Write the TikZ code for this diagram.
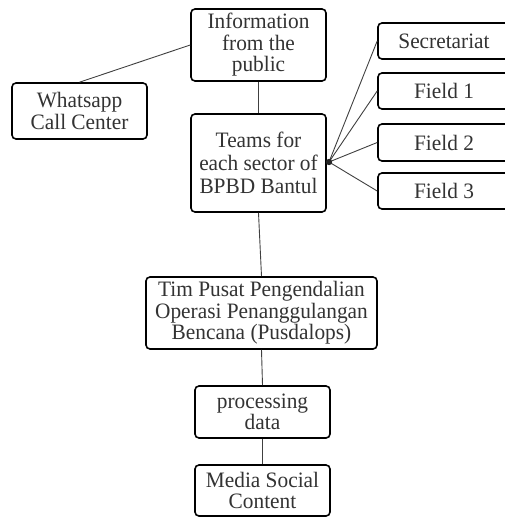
\documentclass[tikz,border=0pt]{standalone}
\usepackage{fontspec}
\setmainfont{Liberation Serif}[FakeStretch=0.97]
\begin{document}
\begin{tikzpicture}[x=1pt,y=-1pt,
  box/.style={draw=black, line width=1.6pt, rounded corners=4pt, fill=white,
    align=center, inner sep=0pt, text=black!80,
    font=\fontsize{22}{21.5}\selectfont},
  link/.style={draw=black!75, line width=0.9pt}]
\useasboundingbox (0,0) rectangle (505,519);
\clip (0,0) rectangle (505,519);
\node[box, minimum width=135pt, minimum height=72pt] (info) at (258.5,45) {Information\\from the\\public};
\node[box, minimum width=135pt, minimum height=56pt] (wa) at (79.5,111) {Whatsapp\\Call Center};
\node[box, minimum width=135pt, minimum height=98pt, font=\fontsize{22}{23}\selectfont] (teams) at (258.5,163) {Teams for\\each sector of\\BPBD Bantul};
\node[box, minimum width=132pt, minimum height=36pt] (sec) at (444,41) {Secretariat};
\node[box, minimum width=132pt, minimum height=36pt] (f1) at (444,91) {Field 1};
\node[box, minimum width=132pt, minimum height=37pt] (f2) at (444,142.5) {Field 2};
\node[box, minimum width=132pt, minimum height=36pt] (f3) at (444,191) {Field 3};
\node[box, minimum width=231pt, minimum height=72pt] (tim) at (261.5,313) {Tim Pusat Pengendalian\\Operasi Penanggulangan\\Bencana (Pusdalops)};
\node[box, minimum width=135pt, minimum height=52pt] (proc) at (262.5,412) {processing\\data};
\node[box, minimum width=135pt, minimum height=51pt] (media) at (262.5,490.5) {Media Social\\Content};
\coordinate (hub) at (329,162);
\draw[link] (wa.north) -- (info.west);
\draw[link] (info.south) -- (teams.north);
\draw[link] (teams.south) -- (tim.north);
\draw[link] (tim.south) -- (proc.north);
\draw[link] (proc.south) -- (media.north);
\draw[link] (hub) -- (sec.west);
\draw[link] (hub) -- (f1.west);
\draw[link] (hub) -- (f2.west);
\draw[link] (hub) -- (f3.west);
\fill[black!85] (hub) circle (3.2pt);
\end{tikzpicture}
\end{document}
